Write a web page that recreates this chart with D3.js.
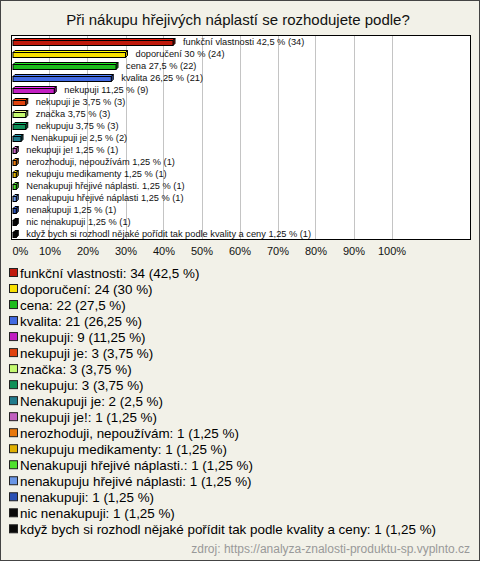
<!DOCTYPE html>
<html><head><meta charset="utf-8">
<script src="https://cdn.jsdelivr.net/npm/d3@7"></script>
<style>
html,body{margin:0;padding:0;background:#f2f1e8;}
svg{display:block;font-family:"Liberation Sans",Arial,sans-serif;}
</style></head>
<body>
<svg id="chart" width="480" height="561"></svg>
<script>
const title = "Při nákupu hřejivých náplastí se rozhodujete podle?";
const categories = ["funkční vlastnosti","doporučení","cena","kvalita","nekupuji","nekupuji je","značka","nekupuju","Nenakupuji je","nekupuji je!","nerozhoduji, nepoužívám","nekupuju medikamenty","Nenakupuji hřejivé náplasti.","nenakupuju hřejivé náplasti","nenakupuji","nic nenakupuji","když bych si rozhodl nějaké pořídit tak podle kvality a ceny"];
const counts = [34,24,22,21,9,3,3,3,2,1,1,1,1,1,1,1,1];
const percents = [42.5,30,27.5,26.25,11.25,3.75,3.75,3.75,2.5,1.25,1.25,1.25,1.25,1.25,1.25,1.25,1.25];
const colors = ["#c01a0c","#f8e000","#1cbb1c","#4169e1","#c21fc2","#e0420e","#c4fa70","#109058","#1f7a8c","#c060c0","#e8780c","#e0b000","#4ee02e","#6a96e6","#2a50b4","#0a0a0a","#0a0a0a"];
const xTicks = [0,10,20,30,40,50,60,70,80,90,100];
const source = "zdroj: https://analyza-znalosti-produktu-sp.vyplnto.cz";

const fmt = v => String(v).replace(".", ",");
const svg = d3.select("#chart");

// outer frame
svg.append("rect").attr("x",0.5).attr("y",0.5).attr("width",479).attr("height",560)
  .attr("fill","#f2f1e8").attr("stroke","#444");

svg.append("text").attr("x",238).attr("y",25).attr("text-anchor","middle")
  .attr("font-size",15).attr("fill","#111").text(title);

const plot = {x0:11.5, x1:470.5, y0:35.5, y1:239.5};
const x = d3.scaleLinear().domain([0,120]).range([plot.x0, plot.x0 + 38*12]);
const y = d3.scaleBand().domain(categories).range([plot.y0, plot.y1]);

svg.append("rect").attr("x",plot.x0).attr("y",plot.y0)
  .attr("width",plot.x1-plot.x0).attr("height",plot.y1-plot.y0)
  .attr("fill","#fff");

svg.append("g").selectAll("line").data(xTicks.slice(1)).join("line")
  .attr("x1",d=>Math.round(x(d))+0.5).attr("x2",d=>Math.round(x(d))+0.5)
  .attr("y1",plot.y0).attr("y2",plot.y1).attr("stroke","#c4c4c4");

// axis labels
const ax = svg.append("g").attr("transform",`translate(0,${plot.y1})`)
  .call(d3.axisBottom(x).tickValues(xTicks).tickFormat(d=>d+"%").tickSize(0).tickPadding(8));
ax.select(".domain").remove();
ax.selectAll("text").attr("font-size",11).attr("fill","#111")
  .attr("font-family","'Liberation Sans',Arial,sans-serif");
ax.selectAll("text").filter(d=>d===0).attr("text-anchor","start").attr("dx",0.5);

// 3D bars
const d = 2, h = 5;
const bars = svg.append("g").selectAll("g").data(categories).join("g");
bars.each(function(c,i){
  const g = d3.select(this);
  const xa = x(0)+1.5, xb = x(percents[i]);
  const yc = y(c) + y.bandwidth()/2 + 0.5;
  const top = yc - h/2 + 1;
  const col = d3.color(colors[i]);
  g.append("polygon")
    .attr("points",[[xa,top],[xa+d,top-d],[xb+d,top-d],[xb,top]].join(" "))
    .attr("fill",col.brighter(0.6)).attr("stroke","#000").attr("stroke-width",1);
  g.append("polygon")
    .attr("points",[[xb,top],[xb+d,top-d],[xb+d,top+h-d],[xb,top+h]].join(" "))
    .attr("fill",col.darker(0.8)).attr("stroke","#000").attr("stroke-width",1);
  g.append("rect").attr("x",xa).attr("y",top).attr("width",Math.max(xb-xa,1)).attr("height",h)
    .attr("fill",colors[i]).attr("stroke","#000").attr("stroke-width",1);
  g.append("text").attr("x",xb+10).attr("y",yc+3).attr("font-size",9.25).attr("fill","#111")
    .text(`${c} ${fmt(percents[i])} % (${counts[i]})`);
});

// plot border
svg.append("rect").attr("x",plot.x0).attr("y",plot.y0)
  .attr("width",plot.x1-plot.x0).attr("height",plot.y1-plot.y0)
  .attr("fill","none").attr("stroke","#000");

// legend
const ly = d3.scaleLinear().domain([0,16]).range([273,529.3]);
const leg = svg.append("g").selectAll("g").data(categories).join("g")
  .attr("transform",(c,i)=>`translate(0,${ly(i)})`);
leg.append("rect").attr("x",9.5).attr("y",-4.5).attr("width",8).attr("height",8)
  .attr("fill",(c,i)=>colors[i]).attr("stroke","#222");
leg.append("text").attr("x",20).attr("y",4.6).attr("font-size",13.4).attr("fill","#000")
  .text((c,i)=>`${c}: ${counts[i]} (${fmt(percents[i])} %)`);

svg.append("text").attr("x",470).attr("y",553).attr("text-anchor","end")
  .attr("font-size",12).attr("fill","#999").text(source);
</script>
</body></html>
